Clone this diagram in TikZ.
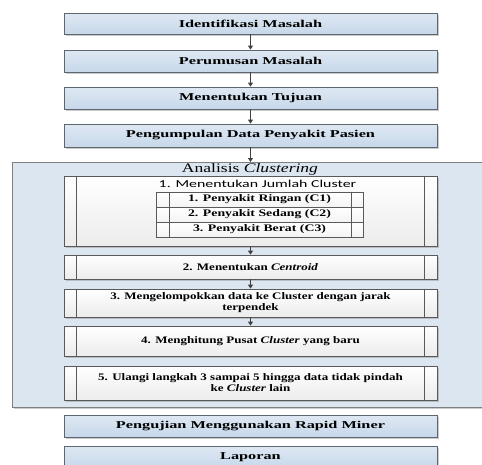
\documentclass[tikz,border=0pt]{standalone}
\usepackage{fontspec}
\setmainfont{Liberation Serif}
\newfontfamily\fblue{Liberation Serif}[FakeStretch=1.55]
\newfontfamily\ftitle{Liberation Serif}[FakeStretch=1.35]
\newfontfamily\fwhite{Liberation Serif}[FakeStretch=1.3]
\newfontfamily\fsub{Liberation Serif}[FakeStretch=1.38]
\newfontfamily\fsans{Carlito}[FakeStretch=1.5]
\usetikzlibrary{arrows.meta,shadows}
\definecolor{bluetop}{HTML}{DEE8F3}
\definecolor{bluebot}{HTML}{C7D8EA}
\definecolor{boxedge}{HTML}{5E6670}
\definecolor{grpfill}{HTML}{DCE6F1}
\definecolor{grpedge}{HTML}{7F7F7F}
\definecolor{wedge}{HTML}{595959}
\definecolor{wbot}{HTML}{ECECEC}
\definecolor{arrcol}{HTML}{404040}
\begin{document}
\begin{tikzpicture}[x=1pt,y=-1pt,
  shad/.style={drop shadow={shadow xshift=1.5pt,shadow yshift=-1.5pt,fill=black!45,opacity=0.45}},
  bluebox/.style={shad,draw=boxedge,line width=0.8pt,top color=bluetop,bottom color=bluebot,
    minimum width=373pt,inner sep=0pt,font=\fblue\bfseries\fontsize{10.5}{12}\selectfont},
  grpbox/.style={shad,draw=grpedge,line width=0.9pt,fill=grpfill,inner sep=0pt},
  whitebox/.style={shad,draw=wedge,line width=0.8pt,top color=white,bottom color=wbot,
    minimum width=373pt,inner sep=0pt,align=center,font=\fwhite\bfseries\fontsize{10}{11}\selectfont},
  subbox/.style={draw=wedge,line width=0.8pt,top color=white,bottom color=wbot!60!white,
    minimum width=207pt,minimum height=15pt,inner sep=0pt,font=\fsub\bfseries\fontsize{10}{11}\selectfont},
  wline/.style={draw=wedge,line width=0.8pt},
  arr/.style={draw=arrcol,line width=0.9pt,-{Triangle[width=5pt,length=4pt]}}
]
\useasboundingbox (0,0) rectangle (482,464);
\clip (0,0) rectangle (482,464);

% top flow
\node[bluebox,minimum height=21pt] (b1) at (250.5,23.5) {Identifikasi Masalah};
\node[bluebox,minimum height=22pt] (b2) at (250.5,61) {Perumusan Masalah};
\node[bluebox,minimum height=22pt] (b3) at (250.5,98) {Menentukan Tujuan};
\node[bluebox,minimum height=23pt] (b4) at (250.5,135.5) {Pengumpulan Data Penyakit Pasien};

% group
\node[grpbox,minimum width=480pt,minimum height=245pt,anchor=north west] (grp) at (12,162) {};
\node[font=\ftitle\fontsize{13}{15}\selectfont,inner sep=0pt] (gt) at (250,169.5) {Analisis \textit{Clustering}};

\node[whitebox,minimum height=70pt] (w1) at (250.5,211) {};
\node[font=\fsans\fontsize{10.6}{12}\selectfont,inner sep=0pt] (t1) at (257.5,183.5) {1. Menentukan Jumlah Cluster};
\node[subbox] (s1) at (259.5,199.5) {1. Penyakit Ringan (C1)};
\node[subbox] (s2) at (259.5,214.5) {2. Penyakit Sedang (C2)};
\node[subbox] (s3) at (259.5,229.5) {3. Penyakit Berat (C3)};
\foreach \s in {s1,s2,s3}{
  \draw[wline] ([xshift=14pt]\s.north west) -- ([xshift=14pt]\s.south west);
  \draw[wline] ([xshift=-12pt]\s.north east) -- ([xshift=-12pt]\s.south east);
}

\node[whitebox,minimum height=24pt] (w2) at (250.5,267) {2. Menentukan \textit{Centroid}};
\node[whitebox,minimum height=28pt] (w3) at (250.5,303) {3. Mengelompokkan data ke Cluster dengan jarak\\terpendek};
\node[whitebox,minimum height=30pt] (w4) at (250.5,341) {4. Menghitung Pusat \textit{Cluster} yang baru};
\node[whitebox,minimum height=34pt] (w5) at (250.5,383) {5. Ulangi langkah 3 sampai 5 hingga data tidak pindah\\ke \textit{Cluster} lain};
\foreach \n in {w1,w2,w3,w4,w5}{
  \draw[wline] ([xshift=13pt]\n.north west) -- ([xshift=13pt]\n.south west);
  \draw[wline] ([xshift=-13pt]\n.north east) -- ([xshift=-13pt]\n.south east);
}

% bottom flow
\node[bluebox,minimum height=22pt] (b5) at (250.5,426) {Pengujian Menggunakan Rapid Miner};
\node[bluebox,minimum height=22pt] (b6) at (250.5,457) {Laporan};

% arrows
\draw[arr] (b1) -- (b2);
\draw[arr] (b2) -- (b3);
\draw[arr] (b3) -- (b4);
\draw[arr] (b4.south) -- (b4.south |- grp.north);
\draw[arr] (w1) -- (w2);
\draw[arr] (w2) -- (w3);
\draw[arr] (w3) -- (w4);
\end{tikzpicture}
\end{document}
